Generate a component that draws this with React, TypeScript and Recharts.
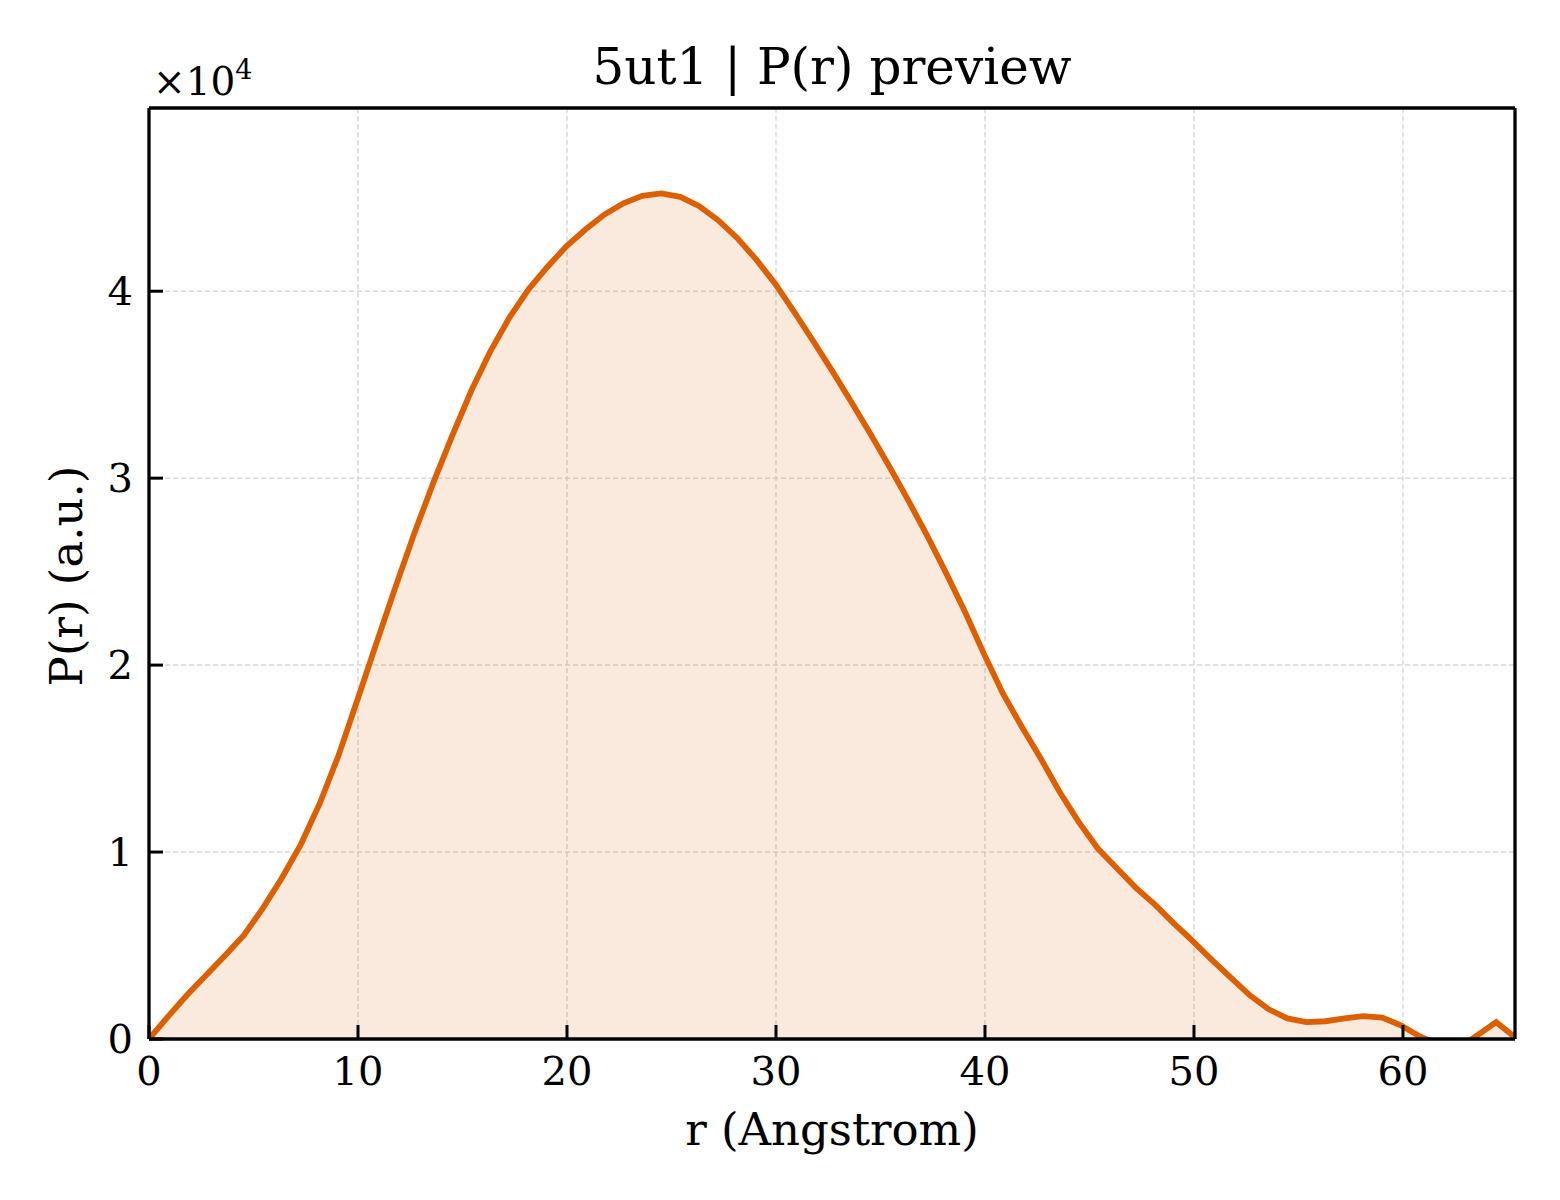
import { AreaChart, Area, XAxis, YAxis, CartesianGrid } from "recharts";

// P(r) pair-distance distribution preview for 5ut1.

const R_ANGSTROM = [
  0, 0.91, 1.82, 2.72, 3.63, 4.54, 5.45, 6.35, 7.26, 8.17, 9.08, 9.99, 10.89,
  11.8, 12.71, 13.62, 14.52, 15.43, 16.34, 17.25, 18.16, 19.06, 19.97, 20.88,
  21.79, 22.7, 23.6, 24.51, 25.42, 26.33, 27.23, 28.14, 29.05, 29.96, 30.87,
  31.77, 32.68, 33.59, 34.5, 35.41, 36.31, 37.22, 38.13, 39.04, 39.95, 40.85,
  41.76, 42.67, 43.58, 44.49, 45.39, 46.3, 47.21, 48.12, 49.02, 49.93, 50.84,
  51.75, 52.66, 53.56, 54.47, 55.38, 56.29, 57.2, 58.1, 59.01, 59.92, 60.83,
  61.74, 62.65, 63.55, 64.46, 65.36,
];

const P_R = [
  0, 1200, 2350, 3400, 4450, 5550, 7000, 8600, 10400, 12600, 15200, 18200,
  21200, 24200, 27100, 29800, 32300, 34700, 36800, 38600, 40100, 41300, 42400,
  43300, 44100, 44700, 45100, 45230, 45050, 44550, 43800, 42850, 41700, 40400,
  38900, 37350, 35750, 34100, 32400, 30650, 28850, 26950, 24950, 22850, 20600,
  18500, 16700, 15000, 13200, 11600, 10200, 9150, 8100, 7200, 6200, 5250, 4250,
  3300, 2350, 1600, 1100, 900, 950, 1100, 1220, 1150, 720, 120, -300, -500, 200,
  900, 100,
];

const X_TICKS = [0, 10, 20, 30, 40, 50, 60];
const Y_TICKS = [0, 10000, 20000, 30000, 40000];
const X_DOMAIN = [0, 65.36];
const Y_DOMAIN = [0, 49800];

const ORANGE = "#dc6002";
const FONT = "DejaVu Serif";
const TICK = { fill: "#000", fontSize: 40, fontFamily: FONT };

const data = R_ANGSTROM.map((r, i) => ({ r, p: P_R[i] }));

export default function App() {
  return (
    <div style={{ position: "absolute", left: 0, top: 0, width: 1560, height: 1200, background: "#fff" }}>
      <AreaChart
        width={1560}
        height={1200}
        data={data}
        margin={{ top: 107, right: 44, left: 89, bottom: 101 }}
      >
        <CartesianGrid
          stroke="#d9d9d9"
          strokeWidth={1.5}
          strokeDasharray="5 3"
          horizontalValues={Y_TICKS}
          verticalValues={X_TICKS}
        />
        <XAxis
          dataKey="r"
          type="number"
          domain={X_DOMAIN}
          ticks={X_TICKS}
          interval={0}
          allowDataOverflow
          height={60}
          tickSize={-14}
          tickMargin={32}
          tick={TICK}
          tickLine={{ stroke: "#000", strokeWidth: 3 }}
          axisLine={{ stroke: "#000", strokeWidth: 3.3 }}
        />
        <XAxis
          xAxisId="top"
          orientation="top"
          dataKey="r"
          type="number"
          domain={X_DOMAIN}
          allowDataOverflow
          height={1}
          tick={false}
          tickLine={false}
          axisLine={{ stroke: "#000", strokeWidth: 3.3 }}
        />
        <YAxis
          type="number"
          domain={Y_DOMAIN}
          ticks={Y_TICKS}
          interval={0}
          allowDataOverflow
          width={60}
          tickSize={-14}
          tickMargin={30}
          tick={TICK}
          tickFormatter={(v) => String(v / 10000)}
          tickLine={{ stroke: "#000", strokeWidth: 3 }}
          axisLine={{ stroke: "#000", strokeWidth: 3.3 }}
        />
        <YAxis
          yAxisId="right"
          orientation="right"
          type="number"
          domain={Y_DOMAIN}
          allowDataOverflow
          width={1}
          tick={false}
          tickLine={false}
          axisLine={{ stroke: "#000", strokeWidth: 3.3 }}
        />
        <Area
          type="linear"
          dataKey="p"
          baseValue={0}
          stroke={ORANGE}
          strokeWidth={5.8}
          fill={ORANGE}
          fillOpacity={0.13}
          dot={false}
          activeDot={false}
          isAnimationActive={false}
        />
      </AreaChart>
      <svg
        width={1560}
        height={1200}
        style={{ position: "absolute", left: 0, top: 0, pointerEvents: "none" }}
        fontFamily={FONT}
      >
        <text x={832} y={84} textAnchor="middle" fontSize={50} fill="#000">
          5ut1 | P(r) preview
        </text>
        <text x={153} y={95} fontSize={39} fill="#000">
          ×10
          <tspan dy={-16} fontSize={27}>4</tspan>
        </text>
        <text x={832} y={1145} textAnchor="middle" fontSize={45} fill="#000">
          r (Angstrom)
        </text>
        <text
          x={82}
          y={576}
          textAnchor="middle"
          fontSize={45}
          fill="#000"
          transform="rotate(-90 82 576)"
        >
          P(r) (a.u.)
        </text>
      </svg>
    </div>
  );
}
